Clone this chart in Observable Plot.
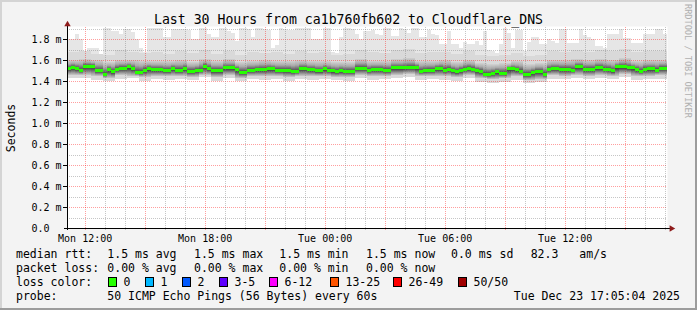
<!DOCTYPE html>
<html><head><meta charset="utf-8">
<script src="https://cdn.jsdelivr.net/npm/d3@7"></script>
<script src="https://cdn.jsdelivr.net/npm/@observablehq/plot@0.6"></script>
<style>
html,body{margin:0;padding:0;background:#f3f3f3;}
#chart svg{display:block;}
</style></head><body><div id="chart"></div>
<script>
// ---- data ----
const startTime = "2025-12-22T11:07:00Z";
const endTime = "2025-12-23T17:07:00Z";
const binMinutes = 12;      // median / max resolution
const groupMinutes = 36;    // smoke quantile resolution
const titleText = "Last 30 Hours from ca1b760fb602 to Cloudflare_DNS";
const yAxisTitle = "Seconds";
const watermark = "RRDTOOL / TOBI OETIKER";

const median = [1.521,1.533,1.521,1.505,1.543,1.543,1.543,1.502,1.502,1.467,
 1.511,1.492,1.514,1.524,1.524,1.537,1.521,1.486,1.486,1.505,
 1.521,1.511,1.511,1.511,1.502,1.502,1.521,1.505,1.505,1.521,
 1.495,1.495,1.505,1.505,1.543,1.521,1.502,1.502,1.502,1.527,
 1.527,1.527,1.511,1.486,1.486,1.505,1.505,1.511,1.511,1.511,
 1.517,1.517,1.505,1.505,1.505,1.505,1.495,1.495,1.521,1.521,
 1.511,1.511,1.498,1.498,1.517,1.505,1.498,1.492,1.502,1.495,
 1.495,1.495,1.524,1.524,1.524,1.505,1.514,1.514,1.514,1.505,
 1.505,1.527,1.527,1.527,1.527,1.533,1.533,1.533,1.495,1.502,
 1.505,1.505,1.521,1.521,1.505,1.514,1.502,1.489,1.505,1.514,
 1.524,1.514,1.505,1.495,1.467,1.467,1.476,1.489,1.476,1.476,
 1.517,1.517,1.508,1.495,1.467,1.467,1.483,1.495,1.495,1.467,
 1.511,1.521,1.521,1.514,1.514,1.514,1.505,1.540,1.540,1.514,
 1.514,1.514,1.530,1.530,1.514,1.514,1.498,1.537,1.537,1.537,
 1.527,1.527,1.511,1.495,1.514,1.517,1.517,1.505,1.524,1.524];

const pingMax = [1.80,1.80,1.85,1.80,1.68,1.72,1.72,1.72,1.66,1.91,
 1.91,1.88,1.88,1.85,1.90,1.90,1.87,1.80,1.72,1.68,
 1.91,1.91,1.91,1.91,1.82,1.82,1.90,1.90,1.90,1.90,
 1.89,1.80,1.80,1.91,1.91,1.85,1.82,1.82,1.91,1.91,
 1.88,1.86,1.78,1.91,1.91,1.90,1.82,1.91,1.91,1.90,
 1.89,1.72,1.74,1.91,1.90,1.89,1.89,1.91,1.91,1.91,
 1.91,1.80,1.80,1.80,1.91,1.91,1.68,1.67,1.82,1.91,
 1.91,1.90,1.85,1.80,1.88,1.88,1.89,1.85,1.84,1.91,
 1.91,1.83,1.83,1.91,1.90,1.86,1.91,1.91,1.82,1.82,
 1.89,1.85,1.84,1.75,1.75,1.88,1.75,1.75,1.72,1.77,
 1.75,1.75,1.78,1.74,1.88,1.70,1.69,1.67,1.75,1.91,
 1.86,1.72,1.89,1.89,1.69,1.77,1.82,1.82,1.75,1.75,
 1.80,1.78,1.76,1.90,1.90,1.76,1.76,1.76,1.90,1.84,
 1.82,1.80,1.73,1.73,1.72,1.85,1.85,1.85,1.90,1.81,
 1.81,1.76,1.76,1.76,1.85,1.85,1.85,1.90,1.90,1.85];

const upperMid = [1.68,1.69,1.66,1.65,1.70,1.68,1.67,1.68,1.66,1.69,1.67,1.70,1.66,1.69,1.65,1.68,1.67,1.68,1.66,1.69,1.67,1.68,1.65,1.66,1.70,1.68,1.67,1.70,1.71,1.67,1.68,1.68,1.66,1.69,1.65,1.64,1.65,1.67,1.64,1.65,1.69,1.68,1.70,1.68,1.70,1.69,1.71,1.68,1.69,1.69];
const upperQ = [1.60,1.61,1.60,1.58,1.60,1.60,1.59,1.59,1.59,1.60,1.58,1.61,1.59,1.61,1.58,1.59,1.60,1.59,1.59,1.60,1.59,1.59,1.58,1.58,1.61,1.59,1.59,1.61,1.62,1.59,1.59,1.60,1.58,1.60,1.57,1.56,1.57,1.59,1.56,1.57,1.60,1.60,1.61,1.60,1.61,1.60,1.62,1.59,1.60,1.60];
const lowerQ = [1.46,1.46,1.45,1.43,1.46,1.45,1.44,1.45,1.45,1.45,1.44,1.46,1.44,1.46,1.43,1.45,1.45,1.45,1.44,1.45,1.45,1.45,1.44,1.44,1.46,1.45,1.45,1.46,1.47,1.45,1.45,1.45,1.44,1.46,1.43,1.42,1.43,1.45,1.41,1.42,1.46,1.45,1.46,1.45,1.46,1.45,1.47,1.45,1.45,1.46];
const pingMin = [1.43,1.43,1.41,1.40,1.42,1.43,1.40,1.42,1.41,1.42,1.41,1.44,1.40,1.43,1.40,1.42,1.41,1.42,1.40,1.42,1.41,1.42,1.41,1.40,1.43,1.41,1.42,1.43,1.44,1.41,1.42,1.41,1.40,1.43,1.39,1.38,1.39,1.41,1.38,1.39,1.42,1.42,1.43,1.42,1.43,1.42,1.44,1.41,1.42,1.42];

const yTicks = [0, 0.2, 0.4, 0.6, 0.8, 1.0, 1.2, 1.4, 1.6, 1.8];
const yTickLabels = ["0.0", "0.2 m", "0.4 m", "0.6 m", "0.8 m", "1.0 m", "1.2 m", "1.4 m", "1.6 m", "1.8 m"];
const yMinor = [0.1, 0.3, 0.5, 0.7, 0.9, 1.1, 1.3, 1.5, 1.7, 1.9];
const xLabelTimes = ["2025-12-22T12:00:00Z", "2025-12-22T18:00:00Z", "2025-12-23T00:00:00Z", "2025-12-23T06:00:00Z", "2025-12-23T12:00:00Z"];
const xLabels = ["Mon 12:00", "Mon 18:00", "Tue 00:00", "Tue 06:00", "Tue 12:00"];

const rttLabel = "median rtt:";
const rttStats = ["1.5 ms avg", "1.5 ms max", "1.5 ms min", "1.5 ms now", "0.0 ms sd", "82.3", "am/s"];
const lossLabel = "packet loss:";
const lossStats = ["0.00 % avg", "0.00 % max", "0.00 % min", "0.00 % now"];
const lossColorLabel = "loss color:";
const lossLabels = ["0", "1", "2", "3-5", "6-12", "13-25", "26-49", "50/50"];
const lossColors = ["#26ff00", "#00b8ff", "#0059ff", "#5e00ff", "#ff00ff", "#ff5500", "#ff0000", "#a10000"];
const probeLabel = "probe:";
const probeText = "50 ICMP Echo Pings (56 Bytes) every 60s";
const stampText = "Tue Dec 23 17:05:04 2025";

// ---- build ----
const t0 = new Date(startTime), t1 = new Date(endTime);
const MIN = 60000;
const bins = median.map((m, i) => {
  const g = Math.floor(i * binMinutes / groupMinutes);
  return {
    x1: new Date(+t0 + i * binMinutes * MIN),
    x2: new Date(+t0 + (i + 1) * binMinutes * MIN),
    med: m, max: pingMax[i],
    um: upperMid[g], uq: upperQ[g], lq: lowerQ[g], mn: pingMin[g]
  };
});
const hours = d3.utcHour.range(t0, t1);
const majorHours = hours.filter(d => d.getUTCHours() % 3 === 0);
const minorHours = hours.filter(d => d.getUTCHours() % 3 !== 0);
const px = 3 * MIN; // one pixel of time (600 px for 30 h)
const halfBar = 0.0143; // half thickness of median bar (~1.5 px)

const chart = Plot.plot({
  width: 697, height: 310,
  marginLeft: 67, marginRight: 30, marginTop: 26, marginBottom: 82,
  x: {type: "utc", domain: [t0, t1], axis: null},
  y: {domain: [0, 1.925], axis: null},
  style: {background: "#f3f3f3", fontFamily: "'DejaVu Sans Mono', monospace", fontSize: "10px", color: "#000", overflow: "visible"},
  marks: [
    Plot.frame({fill: "white", stroke: "none"}),
    Plot.rect(bins, {x1: "x1", x2: "x2", y1: "mn", y2: "max", fill: "#e6e6e6", shapeRendering: "crispEdges"}),
    Plot.rect(bins, {x1: "x1", x2: "x2", y1: "mn", y2: "um", fill: "#d9d9d9", shapeRendering: "crispEdges"}),
    Plot.rect(bins, {x1: "x1", x2: "x2", y1: "med", y2: "uq", fill: "url(#smokeUp)", shapeRendering: "crispEdges"}),
    Plot.rect(bins, {x1: "x1", x2: "x2", y1: "lq", y2: "med", fill: "url(#smokeDown)", shapeRendering: "crispEdges"}),
    // grid
    Plot.ruleY(yMinor, {stroke: "rgba(128,128,128,0.45)", strokeDasharray: "1,1", shapeRendering: "crispEdges"}),
    Plot.ruleY(yTicks.filter(d => d > 0), {x1: () => new Date(+t0 - 4 * px), x2: t1, stroke: "rgba(255,0,0,0.38)", strokeDasharray: "1,1", shapeRendering: "crispEdges"}),
    Plot.ruleX(minorHours, {y1: -0.02, y2: 1.925, stroke: "rgba(128,128,128,0.45)", strokeDasharray: "1,1", shapeRendering: "crispEdges"}),
    Plot.ruleX(majorHours, {y1: -0.02, y2: 1.925, stroke: "rgba(255,0,0,0.38)", strokeDasharray: "1,1", shapeRendering: "crispEdges"}),
    // median
    Plot.rect(bins, {x1: "x1", x2: "x2", y1: d => d.med - halfBar, y2: d => d.med + halfBar, fill: lossColors[0], shapeRendering: "crispEdges"}),
    // axes
    Plot.ruleY(yTicks.filter(d => d > 0), {x1: () => new Date(+t0 - 4 * px), x2: t0, stroke: "#000", shapeRendering: "crispEdges"}),
    Plot.ruleY([0], {x1: () => new Date(+t0 - 3 * px), x2: () => new Date(+t1 + 4 * px), stroke: "#000", shapeRendering: "crispEdges"}),
    Plot.ruleX([t0], {y1: -0.02, y2: 1.955, stroke: "#000", shapeRendering: "crispEdges"}),
    Plot.dot([t0], {x: d => d, y: 1.945, symbol: "triangle", r: 2.4, fill: "#8e1b1b", stroke: "none"}),
    Plot.dot([t1], {x: d => new Date(+d + 4 * px), y: 0, symbol: "triangle", r: 2.4, rotate: 90, fill: "#8e1b1b", stroke: "none"}),
    Plot.text(yTicks, {y: d => d, text: (d, i) => yTickLabels[i], frameAnchor: "left", dx: -36, textAnchor: "start", fontSize: 10, fill: "#000"}),
    Plot.text(xLabelTimes, {x: d => new Date(d), y: 0, dy: 10, text: (d, i) => xLabels[i], fontSize: 10, fill: "#000"})
  ]
});
document.getElementById("chart").appendChild(chart);

const svg = d3.select(chart);
const defs = svg.insert("defs", ":first-child");
const up = defs.append("linearGradient").attr("id", "smokeUp").attr("x1", 0).attr("y1", 0).attr("x2", 0).attr("y2", 1);
[[0, "#d0d0d0"], [0.45, "#aaaaaa"], [0.8, "#6a6a6a"], [1, "#444444"]].forEach(([o, c]) => up.append("stop").attr("offset", o).attr("stop-color", c));
const dn = defs.append("linearGradient").attr("id", "smokeDown").attr("x1", 0).attr("y1", 0).attr("x2", 0).attr("y2", 1);
[[0, "#333333"], [0.3, "#555555"], [0.7, "#9a9a9a"], [1, "#c6c6c6"]].forEach(([o, c]) => dn.append("stop").attr("offset", o).attr("stop-color", c));

const font = "'DejaVu Sans Mono', monospace";
function txt(x, y, s, opts = {}) {
  const t = svg.append("text").attr("x", x).attr("y", y).text(s)
    .attr("font-family", font).attr("font-size", opts.size || 11.5).attr("fill", opts.fill || "#000")
    .attr("text-anchor", opts.anchor || "start").style("white-space", "pre");
  if (opts.transform) t.attr("transform", opts.transform).attr("x", 0).attr("y", 0);
  return t;
}
// frame border
svg.append("rect").attr("x", 0).attr("y", 0).attr("width", 697).attr("height", 2).attr("fill", "#d4d4d4");
svg.append("rect").attr("x", 0).attr("y", 0).attr("width", 2).attr("height", 310).attr("fill", "#d4d4d4");
svg.append("rect").attr("x", 0).attr("y", 308).attr("width", 697).attr("height", 2).attr("fill", "#9c9c9c");
svg.append("rect").attr("x", 695).attr("y", 0).attr("width", 2).attr("height", 310).attr("fill", "#9c9c9c");

txt(348.5, 24, titleText, {size: 13.2, anchor: "middle"});
txt(0, 0, yAxisTitle, {size: 11.5, anchor: "middle", transform: "translate(15,128) rotate(-90)"});
txt(0, 0, watermark, {size: 8.6, fill: "#b0b0b0", transform: "translate(685,4) rotate(90)"});

// legend
txt(16, 258, rttLabel);
[107.3, 194, 279.3, 366, 451, 530.7, 579.3].forEach((x, i) => txt(x, 258, rttStats[i]));
txt(16, 272, lossLabel);
[107.3, 194, 279.3, 366].forEach((x, i) => txt(x, 272, lossStats[i]));
txt(16, 286, lossColorLabel);
const boxX = [108.5, 145.5, 182.5, 219.5, 269.5, 330.5, 393.5, 458.5];
boxX.forEach((x, i) => {
  svg.append("rect").attr("x", x).attr("y", 277.5).attr("width", 8).attr("height", 9)
    .attr("fill", lossColors[i]).attr("stroke", "#000").attr("stroke-width", 1);
  txt(x + 15, 286, lossLabels[i]);
});
txt(16, 300, probeLabel);
txt(107.3, 300, probeText);
txt(680, 300, stampText, {anchor: "end"});
</script>
</body></html>
